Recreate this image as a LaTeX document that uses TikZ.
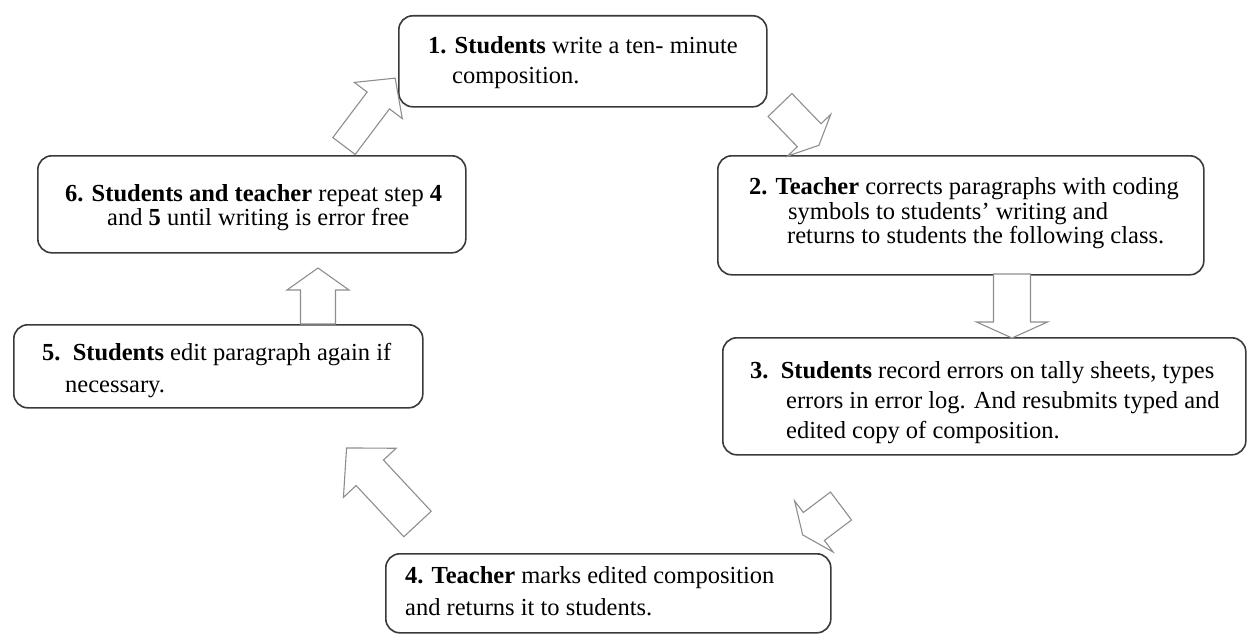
\documentclass[tikz,border=0pt]{standalone}
\usepackage{fontspec}
\setmainfont{Liberation Serif}
\definecolor{boxline}{HTML}{3A3A3A}
\definecolor{arrline}{HTML}{8E8E8E}
\tikzset{
  stepbox/.style={draw=boxline, line width=1.6pt, rectangle, rounded corners=14pt, inner sep=0pt, anchor=north west, fill=white},
  txt/.style={inner sep=0pt, anchor=base west, font=\fontsize{24.5}{30}\selectfont, text=black},
  barrow/.style={draw=arrline, line width=1.1pt, fill=white, line join=miter},
}
% name, tail x, tail y, angle, length, shaft half width, head half width, head length
\newcommand\blockarrow[8]{%
  \begin{scope}[shift={(#2,#3)}, rotate=#4]
    \draw[barrow] (0,-#6) -- ({#5-#8},-#6) -- ({#5-#8},-#7) -- (#5,0) -- ({#5-#8},#7) -- ({#5-#8},#6) -- (0,#6) -- cycle;
    \coordinate (#1) at (#5,0);
  \end{scope}}
\begin{document}
\begin{tikzpicture}[x=1pt,y=-1pt]
\useasboundingbox (0,0) rectangle (1247,634);
% boxes
\node[stepbox, minimum width=368pt, minimum height=91pt] (b1) at (398,15) {};
\node[stepbox, minimum width=486pt, minimum height=119pt] (b2) at (717,155) {};
\node[stepbox, minimum width=523pt, minimum height=117pt] (b3) at (722,337) {};
\node[stepbox, minimum width=445pt, minimum height=79pt] (b4) at (385,553) {};
\node[stepbox, minimum width=409pt, minimum height=83pt] (b5) at (13,324) {};
\node[stepbox, minimum width=428pt, minimum height=97pt] (b6) at (37,155) {};
% texts
\node[txt] (t1a) at (428,53) {\textbf{1. Students} write a ten- minute};
\node[txt] (t1b) at (452,83) {composition.};
\node[txt] (t2a) at (749,194) {\textbf{2. Teacher} corrects paragraphs with coding};
\node[txt] (t2b) at (788,219) {symbols to students’ writing and};
\node[txt] (t2c) at (787,243) {returns to students the following class.};
\node[txt] (t3a) at (750,378) {\textbf{3.\ \ Students} record errors on tally sheets, types};
\node[txt] (t3b) at (786,408) {errors in error log. And resubmits typed and};
\node[txt] (t3c) at (786,438) {edited copy of composition.};
\node[txt] (t4a) at (405,583) {\textbf{4. Teacher} marks edited composition};
\node[txt] (t4b) at (405,615) {and returns it to students.};
\node[txt] (t5a) at (42,360) {\textbf{5.\ \ Students} edit paragraph again if};
\node[txt] (t5b) at (65,392) {necessary.};
\node[txt] (t6a) at (65,201) {\textbf{6. Students and teacher} repeat step \textbf{4}};
\node[txt] (t6b) at (107,225) {and \textbf{5} until writing is error free};
% block arrows
\blockarrow{a61}{344}{146}{53}{85}{14}{30}{28}
\blockarrow{a12}{780}{105}{-46}{56}{16.5}{30}{14}
\blockarrow{a23}{1012}{274}{-90}{64}{18.5}{35.5}{16}
\blockarrow{a34}{841}{506}{217}{48}{17.5}{32}{14}
\blockarrow{a45}{417.5}{524}{133}{104}{18.7}{36}{34}
\blockarrow{a56}{318}{324}{90}{56}{17.5}{31}{22}
\end{tikzpicture}
\end{document}
